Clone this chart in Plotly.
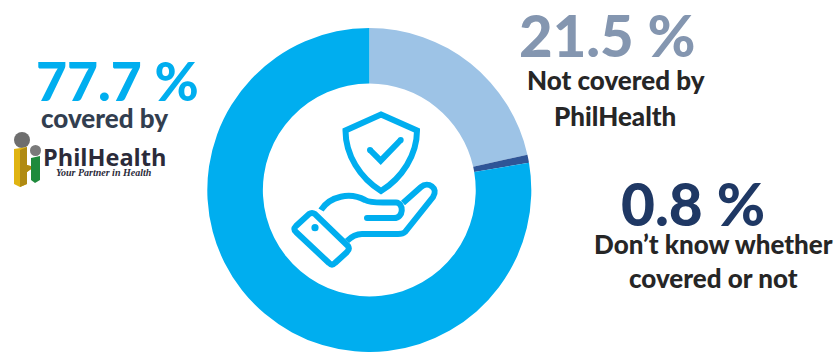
import plotly.graph_objects as go

# Survey shares, clockwise from twelve o'clock
categories = ["Not covered by PhilHealth", "Don't know whether covered or not", "Covered by PhilHealth"]
shares = [21.5, 0.8, 77.7]
slice_colors = ["#9DC3E6", "#2F5597", "#00AEEF"]

W, H = 838, 352
SANS = "Lato, 'Open Sans', sans-serif"
BLUE = "#00AEEF"

fig = go.Figure(go.Pie(
    labels=categories, values=shares, sort=False, direction="clockwise", rotation=0,
    hole=0.657, textinfo="none", hoverinfo="label+percent", showlegend=False,
    marker=dict(colors=slice_colors, line=dict(width=0)),
    domain=dict(x=[0.0, 0.8814], y=[0.0, 0.9205]),
))


def note(x, y, text, size, color, weight=900, family=SANS, italic=False):
    if italic:
        text = f"<i>{text}</i>"
    fig.add_annotation(x=x, y=y, xref="x", yref="y", text=text, showarrow=False,
                       font=dict(size=size, color=color, family=family, weight=weight),
                       xanchor="center", yanchor="middle")


# Headline percentages and their captions
note(117.5, 80, f"{shares[2]} %", 53.5, BLUE)
note(104.5, 118, "covered by", 26, "#323E4F")
note(606.5, 34, f"{shares[0]} %", 58, "#8496B0")
note(615.5, 80, "Not covered by", 26, "#262626")
note(615, 116, "PhilHealth", 26, "#262626")
note(692.5, 203, f"{shares[1]} %", 58.5, "#1F3864")
note(713, 244, "Don’t know whether", 26, "#262626")
note(713, 278, "covered or not", 26, "#262626")


def stroke(path, width=6):
    fig.add_shape(type="path", path=path, xref="x", yref="y", layer="above",
                  line=dict(color=BLUE, width=width), fillcolor="rgba(0,0,0,0)")


def dot(x, y, r):
    fig.add_shape(type="circle", x0=x - r, x1=x + r, y0=y - r, y1=y + r, xref="x", yref="y",
                  layer="above", fillcolor=BLUE, line=dict(width=0))


# Shield with tick, held above an open hand
stroke("M381,114.5 L417,130.5 C417,155 402,178 381,191 C360,178 345.5,155 345.5,130.5 Z")
stroke("M370,150 L380.7,160.7 L400.7,140")
for x, y in [(370, 150), (400.7, 140)]:
    dot(x, y, 3)
stroke("M321,210 C330,196 350,192 365,200 C372,204 385,202 396,202.5 "
       "C404,203 404,218 394,218 L367,218")
dot(367, 218, 3)
stroke("M403,203 L421,187 C428,181 439,188 433,197 L405,232 C403,234 401,234 398,234 "
       "L362,234 C355,234 351,237 347,241")
stroke("M296,226 L309,214 Q312,212 315,214 L348,246 Q350,249 347,252 L335,263 Q332,266 329,263 "
       "L296,232 Q293,229 296,226 Z")
dot(315, 227.7, 3.6)

# PhilHealth wordmark with its two figures
fig.add_shape(type="circle", x0=14, x1=30, y0=132, y1=148, xref="x", yref="y",
              fillcolor="#6E6E6E", line=dict(width=0))
fig.add_shape(type="circle", x0=30, x1=41, y0=145, y1=156, xref="x", yref="y",
              fillcolor="#7A7A7A", line=dict(width=0))
fig.add_shape(type="path", path="M14,149 L27,147 L27,165 L34,167 L27,172 L27,184 L20,187 L14,184 Z",
              xref="x", yref="y", fillcolor="#E0B412", line=dict(width=0))
fig.add_shape(type="path", path="M20,150 L27,147 L27,165 L34,167 L27,172 L27,184 L20,187 Z",
              xref="x", yref="y", fillcolor="#B08A12", line=dict(width=0))
fig.add_shape(type="path", path="M31,158 L40,156 L40,180 L35,183 L31,180 Z",
              xref="x", yref="y", fillcolor="#1E8A3C", line=dict(width=0))
note(104, 157, "PhilHealth", 23.5, "#2B2B3A", weight=700, family="'Open Sans', Lato, sans-serif")
note(104, 172.5, "Your Partner in Health", 10, "#2B2B3A", weight=700,
     family="'Liberation Serif', serif", italic=True)

fig.update_layout(
    width=W, height=H, margin=dict(l=0, r=0, t=0, b=0),
    paper_bgcolor="white", plot_bgcolor="rgba(0,0,0,0)",
    xaxis=dict(range=[0, W], visible=False, fixedrange=True),
    yaxis=dict(range=[H, 0], visible=False, fixedrange=True),
)
fig.write_html("out.html", config=dict(displayModeBar=False))
